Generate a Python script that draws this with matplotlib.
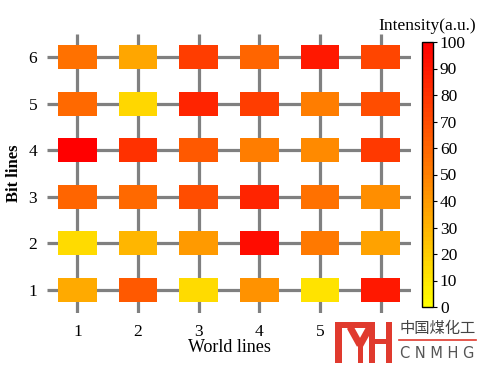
import numpy as np
import matplotlib
matplotlib.use("Agg")
import matplotlib.pyplot as plt
from matplotlib.colors import LinearSegmentedColormap, Normalize
from matplotlib.patches import Rectangle

plt.rcParams['font.family'] = ['Liberation Serif', 'DejaVu Serif']

world_lines = [1, 2, 3, 4, 5, 6]
bit_lines = [1, 2, 3, 4, 5, 6]
# intensity[row=bit line 1..6][col=world line 1..6]
row1 = [34, 65, 15, 43, 11, 90]
row2 = [15, 29, 40, 95, 52, 37]
row3 = [60, 58, 69, 85, 55, 45]
row4 = [100, 80, 65, 51, 46, 77]
row5 = [59, 16, 85, 75, 50, 69]
row6 = [56, 35, 75, 60, 90, 73]
intensity = [row1, row2, row3, row4, row5, row6]
cbar_ticks = [0, 10, 20, 30, 40, 50, 60, 70, 80, 90, 100]

cmap = LinearSegmentedColormap.from_list('yr', [(1, 1, 0), (1, 0, 0)], N=64)
norm = Normalize(0, 100)

fig = plt.figure(figsize=(4.8, 3.67), dpi=100)
W, H = 480, 367
ax = fig.add_axes([47 / W, 1 - 313 / H, (411 - 47) / W, (313 - 34) / H])
ax.set_xlim(0.5, 6.5)
ax.set_ylim(0.5, 6.5)
for s in ax.spines.values():
    s.set_visible(False)

for x in world_lines:
    ax.plot([x, x], [0.5, 6.5], color='#808080', lw=2.3, zorder=1, solid_capstyle='butt')
for y in bit_lines:
    ax.plot([0.5, 6.5], [y, y], color='#808080', lw=2.3, zorder=1, solid_capstyle='butt')

rw, rh = 0.64, 0.52
for i, y in enumerate(bit_lines):
    for j, x in enumerate(world_lines):
        ax.add_patch(Rectangle((x - rw / 2, y - rh / 2), rw, rh,
                               facecolor=cmap(norm(intensity[i][j])), edgecolor='none', zorder=2))

ax.set_xticks(world_lines)
ax.set_yticks(bit_lines)
ax.tick_params(length=0, labelsize=12.5)
ax.tick_params(axis='x', pad=8)
ax.tick_params(axis='y', pad=7)
ax.set_xlabel('World lines', fontsize=13, labelpad=-1)
ax.set_ylabel('Bit lines', fontsize=12, labelpad=5, fontweight='bold')

cax = fig.add_axes([422 / W, 1 - 307 / H, 11 / W, (307 - 42) / H])
sm = plt.cm.ScalarMappable(norm=norm, cmap=cmap)
cb = fig.colorbar(sm, cax=cax, ticks=cbar_ticks)
cb.outline.set_linewidth(1.0)
cax.tick_params(labelsize=12.5, length=3, width=0.8, direction='out', pad=2)
cax.set_title('Intensity(a.u.)', fontsize=12.5, pad=9)

# watermark logo (decoration, drawn in figure pixel coordinates, white backing)
lax = fig.add_axes([0, 0, 1, 1], zorder=5)
lax.set_xlim(0, W)
lax.set_ylim(H, 0)
lax.axis('off')
lax.patch.set_alpha(0)
lax.add_patch(Rectangle((329, 316), 151, 51, color='white', lw=0))
red = '#e03a2e'
lax.add_patch(Rectangle((335, 322), 7, 41, color=red, lw=0))
lax.add_patch(Rectangle((335, 322), 40, 6, color=red, lw=0))
lax.plot([350, 360], [327, 345], color=red, lw=5, solid_capstyle='butt')
lax.plot([370, 360], [327, 345], color=red, lw=5, solid_capstyle='butt')
lax.add_patch(Rectangle((357.5, 343), 5, 20, color=red, lw=0))
lax.add_patch(Rectangle((369, 322), 6, 41, color=red, lw=0))
lax.add_patch(Rectangle((386, 322), 6, 41, color=red, lw=0))
lax.add_patch(Rectangle((369, 339), 20, 5, color=red, lw=0))
lax.plot([399, 476], [340, 340], color=red, lw=1.2)
lax.text(400, 328, '中国煤化工', color='#444444', fontsize=11,
         ha='left', va='center', family=['Noto Sans CJK SC'])
lax.text(400, 353, 'C N M H G', color='#555555', fontsize=10.5,
         ha='left', va='center', family=['DejaVu Sans'])

fig.savefig('out.png', dpi=100)
